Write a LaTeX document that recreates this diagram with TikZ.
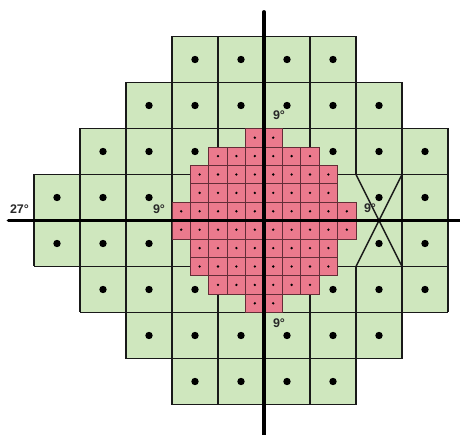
\documentclass[tikz,border=0pt]{standalone}
\usepackage{fontspec}
\setmainfont{Liberation Sans}
\definecolor{cellgreen}{RGB}{207,231,190}
\definecolor{cellpink}{RGB}{235,122,141}
\definecolor{pinkline}{RGB}{100,45,55}
\definecolor{labtext}{RGB}{40,40,40}
\tikzset{
  gline/.style={draw=black!90, line width=1.5pt},
  pline/.style={draw=pinkline, line width=0.7pt},
  axisline/.style={draw=black, line width=3.8pt, line cap=round},
  xline/.style={draw=black!90, line width=1.5pt},
  lab/.style={font=\bfseries\fontsize{12.5}{14}\selectfont, text=labtext, inner sep=0pt}
}
\begin{document}
\begin{tikzpicture}[x=1pt,y=-1pt]
\useasboundingbox (0,0) rectangle (460,435);
\def\cx{264}
\def\cy{220.5}
% green fills and dots
\foreach \r/\a/\b in {-4/-2/2,-3/-3/3,-2/-4/4,-1/-5/4,0/-5/4,1/-4/4,2/-3/3,3/-2/2}{
  \fill[cellgreen] ({\cx+46*(\a)},{\cy+46*(\r)}) rectangle ({\cx+46*(\b)},{\cy+46*(\r)+46});
  \pgfmathtruncatemacro\bm{\b-1}
  \foreach \c in {\a,...,\bm}{
    \fill[black] ({\cx+46*(\c)+23},{\cy+46*(\r)+23}) circle (3.7);
  }
  \foreach \c in {\a,...,\b}{
    \pgfmathtruncatemacro\skipit{((\c==2)&&((\r==-1)||(\r==0)))?1:0}
    \ifnum\skipit=0
      \draw[gline] ({\cx+46*(\c)},{\cy+46*(\r)}) -- ++(0,46);
    \fi
  }
}
% horizontal green lines
\foreach \k/\a/\b in {-4/-2/2,-3/-3/3,-2/-4/4,-1/-5/4,1/-5/4,2/-4/4,3/-3/3,4/-2/2}{
  \draw[gline] ({\cx+46*(\a)},{\cy+46*(\k)}) -- ({\cx+46*(\b)},{\cy+46*(\k)});
}
% pink central grid
\foreach \j/\w in {-5/1,-4/3,-3/4,-2/4,-1/5,0/5,1/4,2/4,3/3,4/1}{
  \pgfmathtruncatemacro\wm{\w-1}
  \foreach \c in {-\w,...,\wm}{
    \filldraw[fill=cellpink, pline] ({\cx+18.4*(\c)},{\cy+18.4*(\j)}) rectangle ++(18.4,18.4);
    \fill[black] ({\cx+18.4*(\c)+9.2},{\cy+18.4*(\j)+9.2}) circle (1.3);
  }
}
% blind spot cross
\coordinate (bsa) at (356,174.5);
\coordinate (bsb) at (402,174.5);
\coordinate (bsc) at (356,266.5);
\coordinate (bsd) at (402,266.5);
\draw[xline] (bsa) -- (bsd);
\draw[xline] (bsb) -- (bsc);
% axes
\coordinate (vtop) at (\cx,12);
\coordinate (vbot) at (\cx,437);
\coordinate (hleft) at (8.5,\cy);
\coordinate (hright) at (462,\cy);
\draw[axisline] (vtop) -- (vbot);
\draw[axisline] (hleft) -- (hright);
% labels
\node[lab] (l27) at (19.5,209.5) {27°};
\node[lab] (l9l) at (159,208.7) {9°};
\node[lab] (l9t) at (279,115.5) {9°};
\node[lab] (l9b) at (279,322.7) {9°};
\node[lab] (l9r) at (370,208) {9°};
\end{tikzpicture}
\end{document}
